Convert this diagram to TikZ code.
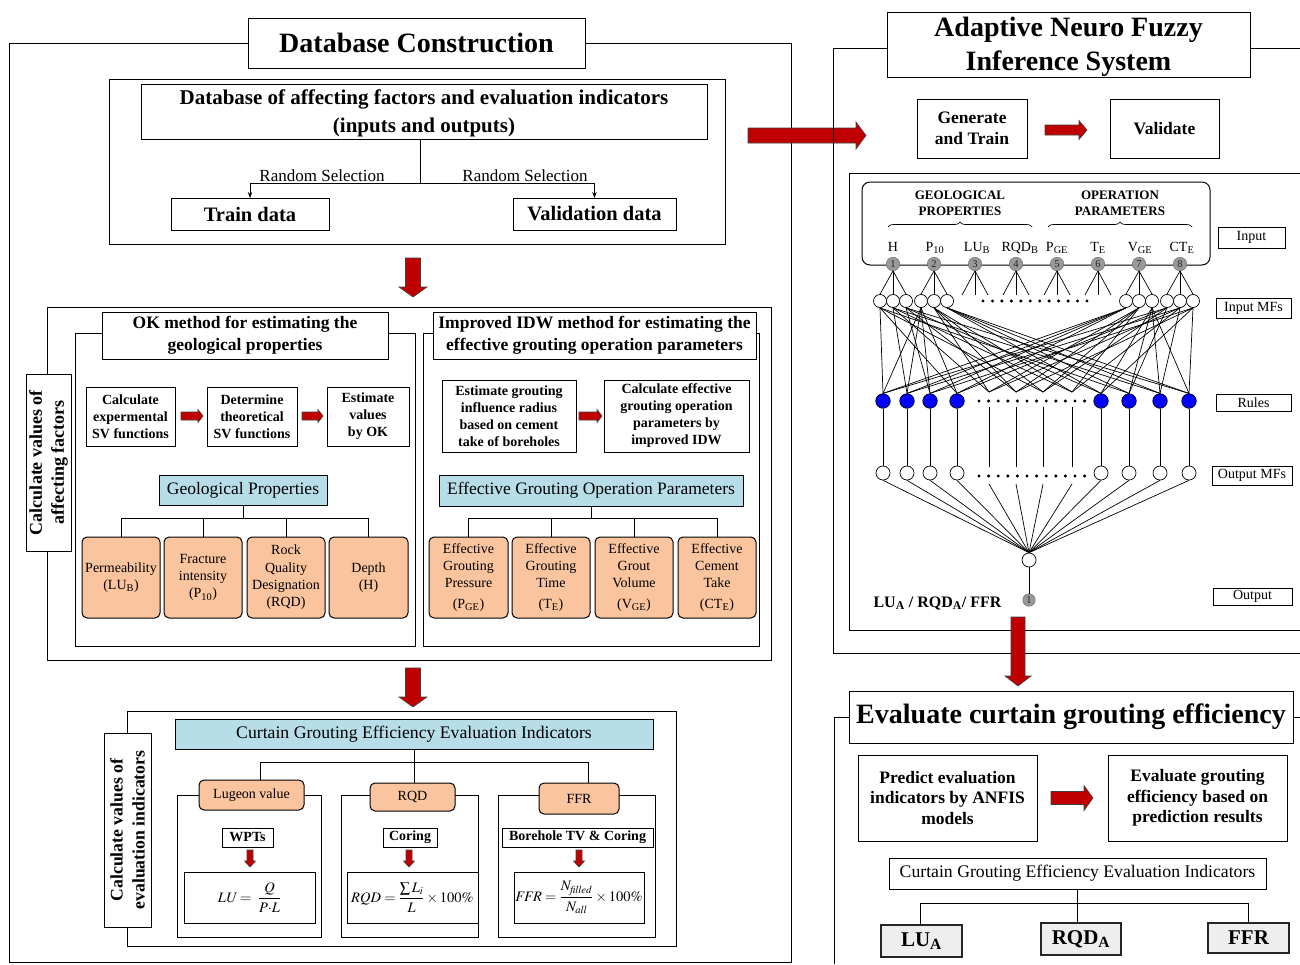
\documentclass[tikz,border=0pt]{standalone}
\usepackage{amsmath}
\usepackage{mathptmx}
\usepackage[no-math]{fontspec}
\setmainfont{Liberation Serif}
\usetikzlibrary{arrows.meta,decorations.pathreplacing,calc}

\definecolor{arrowred}{RGB}{192,0,0}
\definecolor{peach}{RGB}{249,196,158}
\definecolor{paleblue}{RGB}{183,222,232}
\definecolor{resgray}{RGB}{238,238,238}
\definecolor{ruleblue}{RGB}{0,0,255}

\newcommand{\fsz}[2]{\fontsize{#1}{#2}\selectfont}

\tikzset{
  frame/.style={line width=1pt},
  box/.style={draw, fill=white, line width=1pt, inner sep=0pt, outer sep=0pt, align=center},
  peachbox/.style={box, fill=peach, rounded corners=5pt},
  bluebox/.style={box, fill=paleblue},
  resbox/.style={box, fill=resgray, line width=1.7pt, draw=black!85},
  link/.style={line width=0.9pt},
  net/.style={line width=0.7pt},
  bigarrow/.style={fill=arrowred, draw=black!75, line width=0.6pt},
  mf/.style={circle, draw, fill=white, line width=0.7pt, minimum size=13pt, inner sep=0pt},
  rulenode/.style={circle, draw, fill=ruleblue, line width=0.7pt, minimum size=14.5pt, inner sep=0pt},
  omf/.style={circle, draw, fill=white, line width=0.7pt, minimum size=14pt, inner sep=0pt},
  numnode/.style={circle, fill=gray!80, draw=gray!80!black, line width=0.4pt, minimum size=13.5pt, inner sep=0pt, text=black!85, font=\fsz{10.5}{11}},
  hidden/.style={inner sep=0pt, outer sep=0pt, minimum size=0pt},
  sidelabel/.style={box, line width=0.9pt, font=\fsz{14}{16}},
}

% box from corner (x1,y1) to corner (x2,y2): style, name, x1, y1, x2, y2, text
\newcommand{\bx}[7]{\node[#1, minimum width={#5-#3}, minimum height={#6-#4}] (#2) at ({(#3+#5)/2},{(#4+#6)/2}) {#7};}
% fat arrow to the right: x1, x2, y, half shaft, half head, head length
\newcommand{\rarr}[6]{\draw[bigarrow] (#1,#3-#4) -- (#2-#6,#3-#4) -- (#2-#6,#3-#5) -- (#2,#3) -- (#2-#6,#3+#5) -- (#2-#6,#3+#4) -- (#1,#3+#4) -- cycle;}
% fat arrow downwards: x, y1, y2, half shaft, half head, head length
\newcommand{\darr}[6]{\draw[bigarrow] (#1-#4,#2) -- (#1+#4,#2) -- (#1+#4,#3-#6) -- (#1+#5,#3-#6) -- (#1,#3) -- (#1-#5,#3-#6) -- (#1-#4,#3-#6) -- cycle;}

\begin{document}
\begin{tikzpicture}[x=1pt,y=-1pt]
\useasboundingbox (0,0) rectangle (1300,964);
\fill[white] (0,0) rectangle (1300,964);

%% ---------------- Database construction ----------------
\draw[frame] (9,43) rectangle (791,962);
\bx{box, font=\fsz{28}{32}\bfseries}{dbtitle}{248}{18}{585}{68}{Database Construction}

\draw[frame] (109,79) rectangle (725,244);
\bx{box}{dbfact}{141}{84}{707}{139}{}
\node[font=\fsz{21}{27.5}\bfseries, align=center] (dbfacttext) at (424,113.5) {Database of affecting factors and evaluation indicators\\(inputs and outputs)};
\bx{box, font=\fsz{20.5}{24}\bfseries}{train}{171}{198}{329}{230}{Train data}
\bx{box, font=\fsz{20.5}{24}\bfseries}{valid}{513}{198}{676}{230}{Validation data}
\coordinate (split) at (420,183);
\draw[link] (split |- dbfact.south) -- (split);
\draw[link,-{Stealth[length=6pt,width=4.5pt]}] (split) -| (train.north);
\draw[link,-{Stealth[length=6pt,width=4.5pt]}] (split) -| (valid.north);
\node[font=\fsz{17}{20}, anchor=base] (rsleft) at (322,181) {Random Selection};
\node[font=\fsz{17}{20}, anchor=base] (rsright) at (525,181) {Random Selection};

\darr{413}{258}{297}{7.5}{14}{10}

%% ---------------- affecting factors ----------------
\draw[frame] (47,307) rectangle (771,660);
\node[box, rotate=90, minimum width=177, minimum height=45, font=\fsz{18}{22}\bfseries] (calcfac) at (48.5,462.5) {Calculate values of\\affecting factors};

% ordinary kriging panel
\draw[frame] (75,333) rectangle (415,646);
\bx{box, font=\fsz{17.5}{22.5}\bfseries}{oktitle}{102}{312}{388}{359}{OK method for estimating the\\geological properties}
\bx{box, font=\fsz{14}{17}\bfseries}{ok1}{86}{387}{175}{446}{Calculate\\expermental\\SV functions}
\bx{box, font=\fsz{14}{17}\bfseries}{ok2}{207}{387}{297}{446}{Determine\\theoretical\\SV functions}
\bx{box, font=\fsz{14}{17}\bfseries}{ok3}{327}{387}{409}{446}{Estimate\\values\\by OK}
\rarr{181}{203}{416}{4}{6.5}{5}
\rarr{302}{323}{416}{4}{6.5}{5}
\bx{bluebox, font=\fsz{17.5}{20}}{geo}{159}{475}{327}{505}{Geological Properties}
\bx{peachbox, font=\fsz{14}{17.3}}{g1}{82}{537}{160}{618}{Permeability\\(LU\textsubscript{B})}
\bx{peachbox, font=\fsz{14}{17.3}}{g2}{164}{537}{242}{618}{Fracture\\intensity\\(P\textsubscript{10})}
\bx{peachbox, font=\fsz{14}{17.3}}{g3}{247}{537}{325}{618}{Rock\\Quality\\Designation\\(RQD)}
\bx{peachbox, font=\fsz{14}{17.3}}{g4}{329}{537}{408}{618}{Depth\\(H)}
\foreach \c in {g1,g2,g3,g4} \draw[link] (geo.south) -- ++(0,13) -| (\c.north);

% improved IDW panel
\draw[frame] (423,333) rectangle (759,646);
\bx{box, font=\fsz{17.5}{22.5}\bfseries}{idwtitle}{433}{312}{756}{359}{Improved IDW method for estimating the\\effective grouting operation parameters}
\bx{box, font=\fsz{14}{17}\bfseries}{idw1}{442}{380}{576}{452}{Estimate grouting\\influence radius\\based on cement\\take of boreholes}
\bx{box, font=\fsz{14}{17}\bfseries}{idw2}{604}{380}{749}{452}{Calculate effective\\grouting operation\\parameters by\\improved IDW}
\rarr{579}{602}{416}{4}{6.5}{5}
\bx{bluebox, font=\fsz{17.5}{20}}{egop}{439}{475}{743}{506}{Effective Grouting Operation Parameters}
\bx{peachbox, font=\fsz{14}{17}}{e1}{429}{537}{508}{618}{Effective\\Grouting\\Pressure\\[4pt](P\textsubscript{GE})}
\bx{peachbox, font=\fsz{14}{17}}{e2}{512}{537}{590}{618}{Effective\\Grouting\\Time\\[4pt](T\textsubscript{E})}
\bx{peachbox, font=\fsz{14}{17}}{e3}{595}{537}{673}{618}{Effective\\Grout\\Volume\\[4pt](V\textsubscript{GE})}
\bx{peachbox, font=\fsz{14}{17}}{e4}{678}{537}{756}{618}{Effective\\Cement\\Take\\[4pt](CT\textsubscript{E})}
\foreach \c in {e1,e2,e3,e4} \draw[link] (egop.south) -- ++(0,12) -| (\c.north);

\darr{413}{668}{707}{7.5}{14}{10}

%% ---------------- evaluation indicators ----------------
\draw[frame] (127,711) rectangle (676,946);
\node[box, rotate=90, minimum width=194, minimum height=47, font=\fsz{17.7}{22}\bfseries] (calcind) at (127.5,830) {Calculate values of\\evaluation indicators};
\bx{bluebox, font=\fsz{17.7}{20}}{cgei}{175}{719}{653}{749}{Curtain Grouting Efficiency Evaluation Indicators}
\draw[frame] (177,795) rectangle (321,937);
\draw[frame] (341,795) rectangle (478,937);
\draw[frame] (498,795) rectangle (655,937);
\bx{peachbox, font=\fsz{14}{17}}{lug}{199}{780}{304}{810}{Lugeon value}
\bx{peachbox, font=\fsz{14}{17}}{rqdi}{370}{783}{455}{811}{RQD}
\bx{peachbox, font=\fsz{14}{17}}{ffri}{539}{783}{619}{814}{FFR}
\draw[link] (cgei.south) -- (cgei.south |- rqdi.north);
\draw[link] (cgei.south) -- ++(0,13) -| ([xshift=8.5pt]lug.north);
\draw[link] (cgei.south) -- ++(0,13) -| ([xshift=9pt]ffri.north);
\bx{box, font=\fsz{14}{16}\bfseries}{wpt}{222}{828}{273}{847}{WPTs}
\bx{box, font=\fsz{14}{16}\bfseries}{cor}{383}{828}{437}{847}{Coring}
\bx{box, font=\fsz{14}{16}\bfseries}{btv}{502}{828}{653}{847}{Borehole TV \& Coring}
\darr{250}{850}{867}{3}{5.5}{6}
\darr{409}{850}{867}{3}{5.5}{6}
\darr{579}{850}{867}{3}{5.5}{6}
\bx{box, font=\fsz{14.5}{17}}{f1}{184}{872}{315}{923}{$\mathit{LU}=\;\dfrac{Q}{P{\cdot}L}$}
\bx{box, font=\fsz{14.5}{17}}{f2}{347}{872}{478}{923}{$\mathit{RQD}=\dfrac{\mathop{\textstyle\sum} L_i}{L}\times100\%$}
\bx{box, font=\fsz{14.5}{17}}{f3}{514}{872}{644}{923}{$\mathit{FFR}=\dfrac{N_{\mathit{filled}}}{N_{\mathit{all}}}\times100\%$}

\rarr{748}{866}{135.5}{7.5}{13.5}{10}

%% ---------------- ANFIS ----------------
\draw[frame] (1300,48) -- (833,48) -- (833,653) -- (1300,653);
\bx{box}{anfis}{887}{12}{1250}{77}{}
\node[font=\fsz{28}{34}\bfseries, align=center] (anfistext) at (1068.5,46.5) {Adaptive Neuro Fuzzy\\Inference System};
\bx{box, font=\fsz{17.5}{21}\bfseries}{gen}{917}{99}{1027}{158}{Generate\\and Train}
\bx{box, font=\fsz{17.5}{21}\bfseries}{val}{1110}{99}{1219}{158}{Validate}
\rarr{1045}{1087}{130}{5}{9.5}{8}

\draw[frame] (1300,173) -- (849,173) -- (849,630) -- (1300,630);
\bx{box, rounded corners=8pt}{inbox}{862}{182}{1210}{265}{}
\node[font=\fsz{13}{16}\bfseries, align=center] (geohead) at (960,203) {GEOLOGICAL\\PROPERTIES};
\node[font=\fsz{13}{16}\bfseries, align=center] (ophead) at (1120,203) {OPERATION\\PARAMETERS};
\draw[line width=0.7pt, decorate, decoration={brace, amplitude=5pt}] (888,227) -- (1032,227);
\draw[line width=0.7pt, decorate, decoration={brace, amplitude=5pt}] (1048,227) -- (1192,227);

% input labels
\foreach \x/\t in {893/H, 935/P\textsubscript{10}, 977/LU\textsubscript{B}, 1020/RQD\textsubscript{B}, 1057/P\textsubscript{GE}, 1098/T\textsubscript{E}, 1140/V\textsubscript{GE}, 1182/CT\textsubscript{E}}
  \node[font=\fsz{14}{16}, anchor=base] at (\x,251.5) {\t};

% input nodes
\foreach \i/\x in {1/893,2/934,3/975,4/1016,5/1057,6/1098,7/1139,8/1180}
  \node[numnode] (n\i) at (\x,264) {\i};

% input membership functions
\foreach \j/\x in {0/880,1/893,2/906} \node[mf] (mA\j) at (\x,301) {};
\foreach \j/\x in {0/921,1/934,2/947} \node[mf] (mB\j) at (\x,301) {};
\foreach \j/\x in {0/1126,1/1139,2/1152} \node[mf] (mC\j) at (\x,301) {};
\foreach \j/\x in {0/1167,1/1180,2/1193} \node[mf] (mD\j) at (\x,301) {};
\foreach \j in {0,1,2}{
  \draw[net] (n1.south) -- (mA\j.north);
  \draw[net] (n2.south) -- (mB\j.north);
  \draw[net] (n7.south) -- (mC\j.north);
  \draw[net] (n8.south) -- (mD\j.north);
}
\foreach \i in {3,4,5,6}
  \foreach \dx in {-13,0,13}
    \draw[net] (n\i.south) -- ($(n\i)+(\dx,31)$);

% rules and output membership functions
\foreach \k/\x in {0/883,1/907,2/930,3/957,8/1101,9/1129,10/1160,11/1189}{
  \node[rulenode] (r\k) at (\x,401) {};
  \node[omf] (o\k) at (\x,473) {};
  \draw[net] (r\k) -- (o\k);
}
\foreach \k/\x in {4/989,5/1016,6/1043,7/1072}{
  \node[hidden] (r\k) at (\x,392) {};
  \coordinate (ra\k) at (\x,407);
  \coordinate (rb\k) at (\x,467);
  \coordinate (rc\k) at (\x,484);
  \draw[net] (ra\k) -- (rb\k);
}

\foreach \k in {0,...,11}{
  \pgfmathtruncatemacro{\ia}{mod(\k,3)}
  \pgfmathtruncatemacro{\ib}{div(\k,4)}
  \pgfmathtruncatemacro{\ic}{2-div(11-\k,4)}
  \pgfmathtruncatemacro{\id}{2-mod(11-\k,3)}
  \draw[net] (mA\ia.south) -- (r\k.north);
  \draw[net] (mB\ib.south) -- (r\k.north);
  \draw[net] (mC\ic.south) -- (r\k.north);
  \draw[net] (mD\id.south) -- (r\k.north);
}

% dotted rows
\foreach \i in {0,...,11}{
  \fill ({983+\i*9.45},301) circle (1.7pt);
  \fill ({979+\i*9.6},401) circle (1.7pt);
  \fill ({979+\i*9.6},476) circle (1.7pt);
}

% summation and output
\node[omf] (sum) at (1029,560) {};
\node[numnode, minimum size=12.5pt] (out) at (1029,600) {1};
\draw[net] (sum) -- (out);
\foreach \k in {0,1,2,3,8,9,10,11} \draw[net] (o\k.south) -- (sum.north);
\foreach \k in {4,5,6,7} \draw[net] (rc\k) -- (sum.north);
\node[font=\fsz{16}{18}\bfseries, anchor=base west] (outlbl) at (870,607) {LU\textsubscript{A} / RQD\textsubscript{A}/ FFR};

% layer labels
\bx{sidelabel}{lin}{1218}{227}{1285}{248}{Input}
\bx{sidelabel}{lmf}{1216}{298}{1291}{318}{Input MFs}
\bx{sidelabel}{lru}{1216}{394}{1291}{411}{Rules}
\bx{sidelabel}{lomf}{1212}{466}{1292}{485}{Output MFs}
\bx{sidelabel}{lout}{1213}{588}{1292}{605}{Output}

%% ---------------- evaluation of grouting efficiency ----------------
\draw[frame] (1300,717) -- (834,717) -- (834,964);
\bx{box, font=\fsz{28}{32}\bfseries}{evaltitle}{849}{691}{1293}{743}{Evaluate curtain grouting efficiency}
\darr{1018}{617}{686}{7}{13}{10}
\bx{box, font=\fsz{17.5}{20.5}\bfseries}{pred}{858}{755}{1037}{841}{Predict evaluation\\indicators by ANFIS\\models}
\bx{box, font=\fsz{17.5}{20.5}\bfseries}{evres}{1108}{755}{1287}{841}{Evaluate grouting\\efficiency based on\\prediction results}
\rarr{1051}{1093}{798}{6.5}{12.5}{9}
\bx{box, font=\fsz{17.7}{20}}{cgei2}{889}{858}{1266}{889}{Curtain Grouting Efficiency Evaluation Indicators}
\bx{resbox, font=\fsz{21}{24}\bfseries}{lua}{881}{925}{962}{957}{LU\textsubscript{A}}
\bx{resbox, font=\fsz{21}{24}\bfseries}{rqda}{1041}{923}{1121}{955}{RQD\textsubscript{A}}
\bx{resbox, font=\fsz{21}{24}\bfseries}{ffra}{1208}{923}{1289}{953}{FFR}
\draw[link] (cgei2.south) -- (cgei2.south |- rqda.north);
\draw[link] (cgei2.south) -- ++(0,14) -| ([xshift=-1.5pt]lua.north);
\draw[link] (cgei2.south) -- ++(0,14) -| (ffra.north);

\end{tikzpicture}
\end{document}
